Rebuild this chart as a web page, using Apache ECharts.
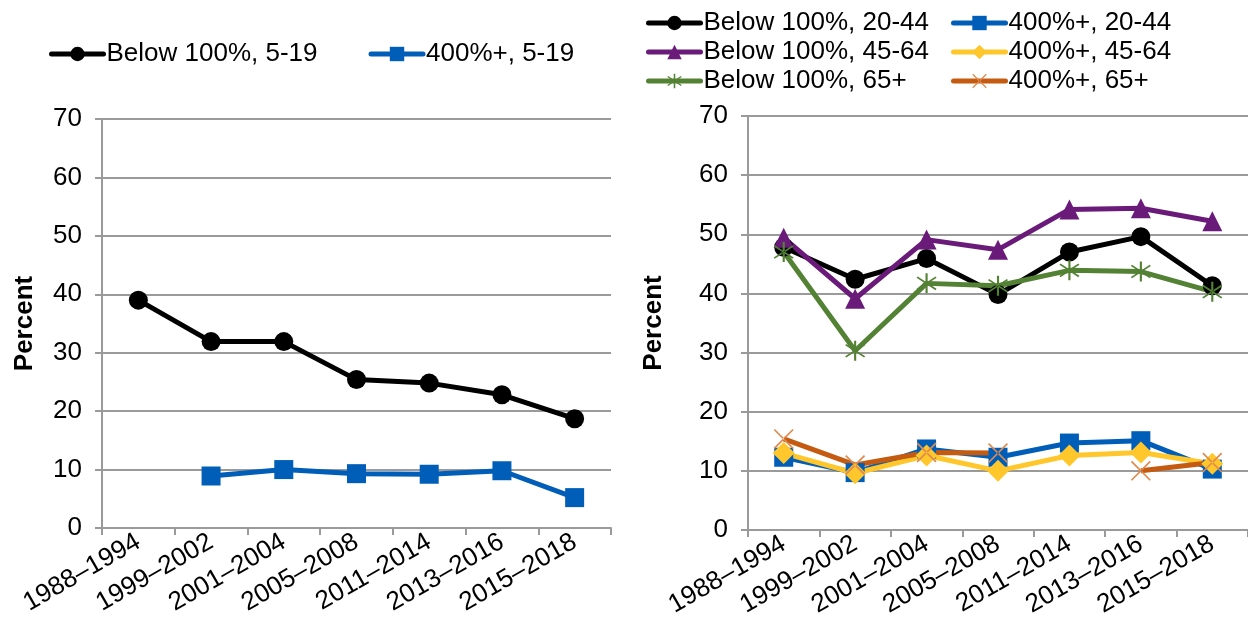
<!DOCTYPE html>
<html><head><meta charset="utf-8">
<script src="https://cdn.jsdelivr.net/npm/echarts@6/dist/echarts.min.js"></script>
<style>html,body{margin:0;padding:0;background:#fff}#c{width:1248px;height:637px}</style>
</head><body><div id="c"></div>
<script>
const categories = ['1988–1994','1999–2002','2001–2004','2005–2008','2011–2014','2013–2016','2015–2018'];
const yTicks = [0,10,20,30,40,50,60,70];
// Left panel (ages 5-19)
const below5_19 = [39.0, 31.9, 31.9, 25.4, 24.8, 22.8, 18.7];
const top5_19   = [null, 8.9, 10.0, 9.3, 9.2, 9.8, 5.2];
// Right panel
const below20_44 = [47.8, 42.4, 45.9, 39.8, 47.0, 49.6, 41.3];
const below45_64 = [49.4, 39.1, 49.1, 47.4, 54.2, 54.4, 52.2];
const below65    = [47.0, 30.3, 41.7, 41.3, 43.9, 43.7, 40.3];
const top20_44   = [12.3, 9.7, 13.7, 12.3, 14.7, 15.1, 10.3];
const top45_64   = [13.0, 9.6, 12.6, 10.0, 12.6, 13.1, 11.2];
const top65      = [15.4, 11.0, 13.1, 13.0, null, 10.0, 11.4];

const FONT = '"Liberation Sans", Arial, sans-serif';
const FS = 26;
const GRID_COLOR = '#9a9a9a';
const starPath = 'path://M-0.9,-10L0.9,-10L0.9,10L-0.9,10Z M-8.4,-5.5L-7.5,-6.8L8.4,5.5L7.5,6.8Z M8.4,-5.5L7.5,-6.8L-8.4,5.5L-7.5,6.8Z';
const xPath = 'path://M-10,-8.8L-8.8,-10L10,8.8L8.8,10Z M10,-8.8L8.8,-10L-10,8.8L-8.8,10Z';

function yAxis(gi, gap){
  return {
    type:'value', gridIndex:gi, min:yTicks[0], max:yTicks[yTicks.length-1], interval:10,
    name:'Percent', nameLocation:'middle', nameGap:gap, nameRotate:90,
    nameTextStyle:{fontFamily:FONT, fontWeight:'bold', fontSize:FS, color:'#000'},
    axisLine:{show:true, lineStyle:{color:GRID_COLOR, width:2}},
    axisTick:{show:true, length:7, lineStyle:{color:GRID_COLOR, width:2}},
    axisLabel:{fontFamily:FONT, fontSize:FS, color:'#000', margin:20},
    splitLine:{show:true, lineStyle:{color:GRID_COLOR, width:2}}
  };
}
function xAxis(gi){
  return {
    type:'category', gridIndex:gi, data:categories, boundaryGap:true,
    axisLine:{show:true, lineStyle:{color:GRID_COLOR, width:2}},
    axisTick:{show:true, length:7, lineStyle:{color:GRID_COLOR, width:2}},
    axisLabel:{fontFamily:FONT, fontSize:FS, color:'#000', rotate:30, interval:0, margin:12}
  };
}
function line(name, data, gi, color, symbol, size, width, markerColor){
  return {
    name, type:'line', data, xAxisIndex:gi, yAxisIndex:gi,
    symbol, symbolSize:size, showSymbol:true, connectNulls:false,
    lineStyle:{color, width},
    itemStyle:{color: markerColor||color, borderWidth:0},
    emphasis:{disabled:true}, animation:false, z: 2
  };
}
function legendText(pad){ return {fontFamily:FONT, fontSize:FS, color:'#000', padding:[0,0,0,pad]}; }
const legendLine = {width:5, cap:'round'};

const chart = echarts.init(document.getElementById('c'), null, {renderer:'canvas'});
chart.setOption({
  animation:false,
  grid:[
    {left:102, right:637, top:119, bottom:109},
    {left:748, right:0, top:116, bottom:107}
  ],
  legend:[
    {data:['Below 100%, 5-19','400%+, 5-19'], left:44, top:36, itemWidth:52, itemHeight:18, itemGap:51,
     lineStyle:legendLine, textStyle:legendText(-2)},
    {data:['Below 100%, 20-44','Below 100%, 45-64','Below 100%, 65+'], orient:'vertical', left:641, top:5, itemWidth:52, itemHeight:18, itemGap:3,
     lineStyle:legendLine, textStyle:legendText(-2)},
    {data:['400%+, 20-44','400%+, 45-64','400%+, 65+'], orient:'vertical', left:946, top:5, itemWidth:52, itemHeight:18, itemGap:3,
     lineStyle:legendLine, textStyle:legendText(-2)}
  ],
  xAxis:[xAxis(0), xAxis(1)],
  yAxis:[yAxis(0, 64), yAxis(1, 81)],
  series:[
    line('Below 100%, 5-19', below5_19, 0, '#000000', 'circle', 19, 5),
    line('400%+, 5-19', top5_19, 0, '#005EB8', 'rect', 19, 5),
    line('Below 100%, 20-44', below20_44, 1, '#000000', 'circle', 19, 5),
    line('Below 100%, 45-64', below45_64, 1, '#6A1B7A', 'triangle', 20, 5),
    line('Below 100%, 65+', below65, 1, '#548235', starPath, 20, 5),
    line('400%+, 20-44', top20_44, 1, '#005EB8', 'rect', 19, 5),
    line('400%+, 45-64', top45_64, 1, '#FFC72C', 'diamond', 22, 5),
    line('400%+, 65+', top65, 1, '#C55A11', xPath, 20, 5, '#E08A4E')
  ]
});
</script></body></html>
